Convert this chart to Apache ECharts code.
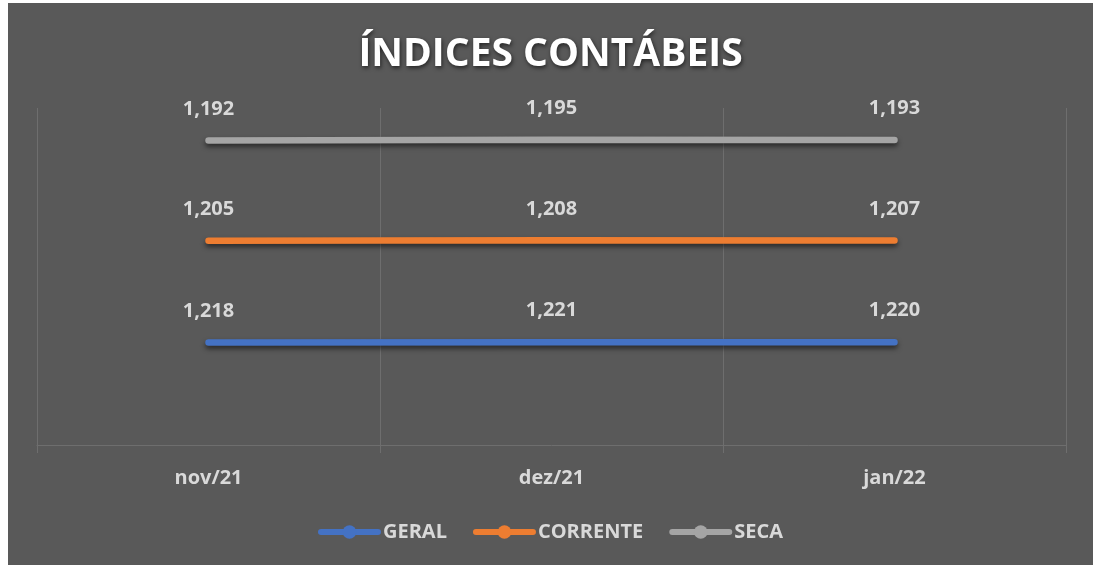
<!DOCTYPE html>
<html>
<head>
<meta charset="utf-8">
<script src="https://cdn.jsdelivr.net/npm/echarts@6/dist/echarts.min.js"></script>
<style>
  html, body { margin: 0; padding: 0; background: #ffffff; }
  #chart { position: absolute; left: 8px; top: 3px; width: 1085px; height: 562px; background: #595959; }
</style>
</head>
<body>
<div id="chart"></div>
<script>
  // dados
  const categorias = ["nov/21", "dez/21", "jan/22"];
  const geral = [1.218, 1.221, 1.220];
  const corrente = [1.205, 1.208, 1.207];
  const seca = [1.192, 1.195, 1.193];

  const chart = echarts.init(document.getElementById("chart"));
  const fonte = "Open Sans";
  const corTexto = "#d9d9d9";
  const corGrade = "#6e6e6e";

  const fmt = (p) => p.value.toFixed(3).replace(".", ",");

  function serie(nome, dados, cor) {
    return {
      name: nome,
      type: "line",
      stack: "total",
      data: dados,
      symbol: "circle",
      symbolSize: 1, // marcador quase invisível, só para o rótulo aparecer
      showSymbol: true,
      itemStyle: { color: cor },
      lineStyle: {
        width: 6.5,
        color: cor,
        cap: "round",
        shadowColor: "rgba(0,0,0,0.55)",
        shadowBlur: 5,
        shadowOffsetY: 3,
      },
      label: {
        show: true,
        position: "top",
        distance: 21,
        formatter: fmt,
        color: corTexto,
        fontFamily: fonte,
        fontWeight: "bold",
        fontSize: 20,
      },
      emphasis: { disabled: true },
    };
  }

  chart.setOption({
    animation: false,
    title: {
      text: "ÍNDICES CONTÁBEIS",
      left: "center",
      top: 27,
      textStyle: {
        color: "#ffffff",
        fontFamily: fonte,
        fontWeight: "bold",
        fontSize: 39,
        textShadowColor: "rgba(0,0,0,0.6)",
        textShadowBlur: 4,
        textShadowOffsetX: 1,
        textShadowOffsetY: 2,
      },
    },
    legend: {
      top: 514,
      left: "center",
      itemWidth: 57,
      itemHeight: 17,
      itemGap: 26,
      lineStyle: { width: 6, cap: "round" },
      textStyle: {
        color: corTexto,
        fontFamily: fonte,
        fontWeight: "bold",
        fontSize: 20,
      },
      data: ["GERAL", "CORRENTE", "SECA"],
    },
    grid: { left: 29, right: 27, top: 105, bottom: 120 },
    xAxis: {
      type: "category",
      data: categorias,
      boundaryGap: true,
      axisLine: { lineStyle: { color: corGrade, width: 1 } },
      axisTick: { show: true, length: 8, lineStyle: { color: corGrade } },
      splitLine: { show: true, lineStyle: { color: corGrade, width: 1 } },
      axisLabel: {
        color: corTexto,
        fontFamily: fonte,
        fontWeight: "bold",
        fontSize: 20,
        margin: 23,
      },
    },
    yAxis: {
      type: "value",
      min: 0,
      max: 4,
      show: false,
      splitLine: { show: false },
    },
    series: [
      serie("GERAL", geral, "#4472c4"),
      serie("CORRENTE", corrente, "#ed7d31"),
      serie("SECA", seca, "#a5a5a5"),
    ],
  });
</script>
</body>
</html>
